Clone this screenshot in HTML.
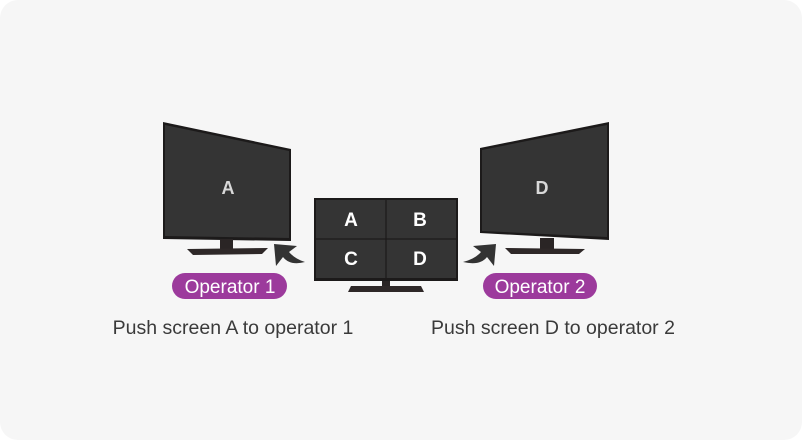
<!DOCTYPE html>
<html><head><style>
html,body{margin:0;padding:0;background:#fff;}
body{width:802px;height:440px;position:relative;overflow:hidden;font-family:"Liberation Sans",sans-serif;}
.card{position:absolute;left:0;top:0;width:802px;height:440px;background:#f6f6f6;border-radius:18px;}
</style></head><body>
<div class="card"></div>
<svg width="802" height="440" style="position:absolute;left:0;top:0">
  <!-- left monitor -->
  <polygon points="163,122 291,149 291,241 163,239" fill="#1c1a1a"/>
  <polygon points="165,125 289,151 289,238 165,236" fill="#343434"/>
  <rect x="220" y="239" width="13" height="10" fill="#2a2525"/>
  <polygon points="187,249 268,248 262,254 193,255" fill="#2e2828"/>
  <text x="228" y="194" font-size="18" font-weight="bold" fill="#d8d8d8" text-anchor="middle" font-family="Liberation Sans,sans-serif">A</text>
  <!-- center monitor -->
  <rect x="314" y="198" width="144" height="83" fill="#1c1a1a"/>
  <rect x="316" y="200" width="140" height="78" fill="#343434"/>
  <line x1="386" y1="200" x2="386" y2="278" stroke="#1c1a1a" stroke-width="1.2"/>
  <line x1="316" y1="239" x2="456" y2="239" stroke="#1c1a1a" stroke-width="1.2"/>
  <rect x="382" y="281" width="8" height="5" fill="#2a2525"/>
  <polygon points="351,286 421,286 424,292 348,292" fill="#2e2828"/>
  <g font-size="19" font-weight="bold" fill="#fff" text-anchor="middle" font-family="Liberation Sans,sans-serif">
    <text x="351" y="226">A</text><text x="420" y="226">B</text>
    <text x="351" y="265">C</text><text x="420" y="265">D</text>
  </g>
  <!-- right monitor -->
  <polygon points="480,148 609,122 609,240 480,233" fill="#1c1a1a"/>
  <polygon points="482,150 607,125 607,237 482,231" fill="#343434"/>
  <rect x="540" y="238" width="14" height="11" fill="#2a2525"/>
  <polygon points="505,248 585,249 579,254 511,254" fill="#2e2828"/>
  <text x="542" y="194" font-size="18" font-weight="bold" fill="#d8d8d8" text-anchor="middle" font-family="Liberation Sans,sans-serif">D</text>
  <!-- arrows -->
  <path d="M274,244 L297,246 L289,252 Q295,259 305,262 Q290,266 283,257 L276,266 Z" fill="#333"/>
  <path d="M496,244 L473,246 L481,252 Q475,259 463,262 Q480,266 487,257 L494,266 Z" fill="#333"/>
  <!-- pills -->
  <rect x="172" y="273" width="115" height="26" rx="13" fill="#9c3a9c"/>
  <text x="230" y="293" font-size="19" fill="#fff" text-anchor="middle" font-family="Liberation Sans,sans-serif">Operator 1</text>
  <rect x="483" y="273" width="114" height="26" rx="13" fill="#9c3a9c"/>
  <text x="540" y="293" font-size="19" fill="#fff" text-anchor="middle" font-family="Liberation Sans,sans-serif">Operator 2</text>
  <text x="233" y="334" font-size="19.5" fill="#3a3a3a" text-anchor="middle" font-family="Liberation Sans,sans-serif">Push screen A to operator 1</text>
  <text x="553" y="334" font-size="19.5" fill="#3a3a3a" text-anchor="middle" font-family="Liberation Sans,sans-serif">Push screen D to operator 2</text>
</svg>
</body></html>
